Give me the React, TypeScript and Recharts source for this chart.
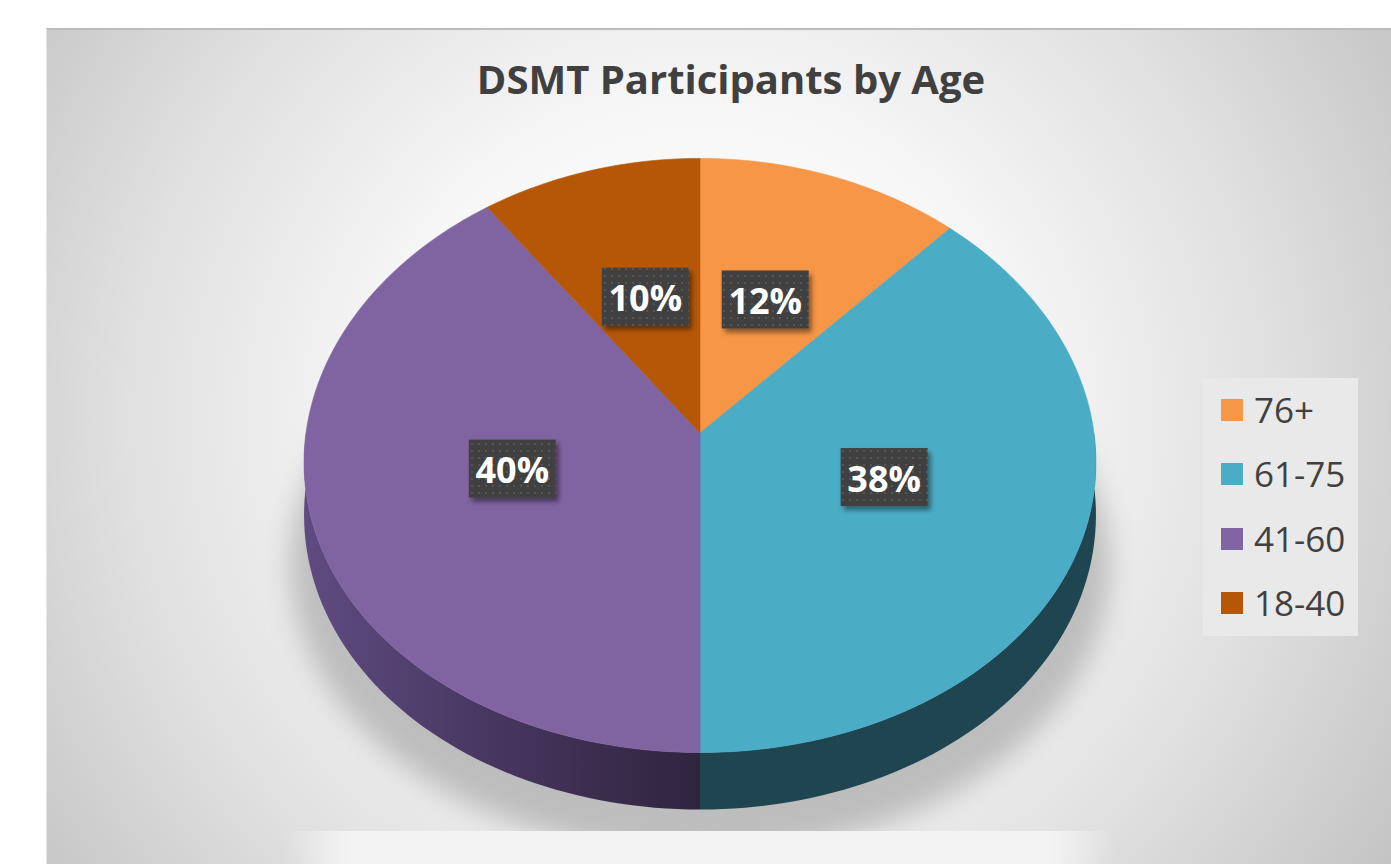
import React from 'react';
import { PieChart, Pie, Legend } from 'recharts';

const TITLE = 'DSMT Participants by Age';
const CATEGORIES = ['76+', '61-75', '41-60', '18-40'];
const VALUES = [12, 38, 40, 10];
const COLORS = ['#F79646', '#4BACC6', '#8064A2', '#B65708'];
const SIDE_COLORS = ['#7a4420', '#1E4550', 'url(#purpleSide)', '#5a2c04'];

const data = CATEGORIES.map((name, i) => ({ name, value: VALUES[i] }));

const W = 1391;
const H = 864;
const TILT = 0.754;
const BOW = 0.057;
const PERSP = 0.1;

function project(cx: number, cy: number, R: number, u: number, v: number): [number, number] {
  return [cx + R * u * (1 - PERSP * v), cy - TILT * R * v + BOW * R * v * v];
}
function depthAt(R: number, v: number) {
  return R * (0.132 - 0.0127 * v);
}

const RAD = Math.PI / 180;

const renderSlice = (props: any) => {
  const { cx, cy, outerRadius, startAngle, endAngle, index, percent } = props;
  const R = outerRadius;
  const rim = (a0: number, a1: number) => {
    const steps = Math.max(6, Math.ceil(Math.abs(a1 - a0) / 1.5));
    const pts: [number, number, number][] = [];
    for (let k = 0; k <= steps; k++) {
      const a = (a0 + ((a1 - a0) * k) / steps) * RAD;
      const [x, y] = project(cx, cy, R, Math.cos(a), Math.sin(a));
      pts.push([x, y, Math.sin(a)]);
    }
    return pts;
  };
  const topPts = rim(startAngle, endAngle);
  const [ax, ay] = project(cx, cy, R, 0, 0);
  const topPath =
    `M${ax},${ay} ` + topPts.map((p) => `L${p[0].toFixed(2)},${p[1].toFixed(2)}`).join(' ') + ' Z';

  const lo = Math.max(Math.min(startAngle, endAngle), -180);
  const hi = Math.min(Math.max(startAngle, endAngle), 0);
  let sidePath: string | null = null;
  if (hi > lo) {
    const s = rim(hi, lo);
    const bottom = s
      .slice()
      .reverse()
      .map((p) => [p[0], p[1] + depthAt(R, p[2])]);
    sidePath =
      `M${s[0][0]},${s[0][1]} ` +
      s.slice(1).map((p) => `L${p[0].toFixed(2)},${p[1].toFixed(2)}`).join(' ') +
      ' ' +
      bottom.map((p) => `L${p[0].toFixed(2)},${p[1].toFixed(2)}`).join(' ') +
      ' Z';
  }

  const mid = ((startAngle + endAngle) / 2) * RAD;
  const K = 0.47;
  const [lx0, ly0] = project(cx, cy, R, K * Math.cos(mid), K * Math.sin(mid));
  const lx = lx0 + (Math.cos(mid) < -0.5 ? -9 : Math.cos(mid) > 0.5 ? 9 : 0);
  const ly = ly0 - 8;
  const bw = 87;
  const bh = 58;
  const text = `${Math.round(percent * 100)}%`;

  return (
    <g key={`slice-${index}`}>
      {sidePath && <path d={sidePath} fill={SIDE_COLORS[index]} stroke="none" />}
      <path d={topPath} fill={COLORS[index]} stroke={COLORS[index]} strokeWidth={0.6} />
      <rect
        x={lx - bw / 2}
        y={ly - bh / 2}
        width={bw}
        height={bh}
        fill="url(#dotPattern)"
        filter="url(#boxShadow)"
      />
      <text
        x={lx}
        y={ly + 1}
        textAnchor="middle"
        dominantBaseline="central"
        fill="#ffffff"
        fontFamily="'Open Sans', sans-serif"
        fontWeight={700}
        fontSize={36}
      >
        {text}
      </text>
    </g>
  );
};

const ROW_CENTERS = [32, 96, 161, 225];

const renderLegend = (props: any) => {
  const payload = ((props && props.payload) || [])
    .slice()
    .sort((a: any, b: any) => CATEGORIES.indexOf(a.value) - CATEGORIES.indexOf(b.value));
  return (
    <div
      style={{
        width: 155,
        height: 258,
        background: '#e9e9e9',
        position: 'relative',
        fontFamily: "'Open Sans', sans-serif",
      }}
    >
      {payload.map((entry: any, i: number) => {
        const idx = CATEGORIES.indexOf(entry.value);
        const c = ROW_CENTERS[i] ?? 32 + i * 64;
        return (
          <div key={`lg-${i}`}>
            <div
              style={{
                position: 'absolute',
                left: 18,
                top: c - 11,
                width: 22,
                height: 22,
                background: COLORS[idx >= 0 ? idx : i],
              }}
            />
            <div
              style={{
                position: 'absolute',
                left: 51,
                top: c - 18,
                height: 35,
                lineHeight: '35px',
                fontSize: 35,
                color: '#404040',
                whiteSpace: 'nowrap',
              }}
            >
              {entry.value}
            </div>
          </div>
        );
      })}
    </div>
  );
};

export default function App() {
  return (
    <div style={{ position: 'absolute', left: 0, top: 0, width: W, height: H, background: '#ffffff', overflow: 'hidden' }}>
      <svg width={W} height={H} style={{ position: 'absolute', left: 0, top: 0 }}>
        <defs>
          <radialGradient id="bgGrad" gradientUnits="userSpaceOnUse" cx={700} cy={420} r={820}>
            <stop offset="0" stopColor="#ffffff" />
            <stop offset="0.38" stopColor="#f7f7f7" />
            <stop offset="0.7" stopColor="#e0e0e0" />
            <stop offset="1" stopColor="#c4c4c4" />
          </radialGradient>
          <linearGradient id="purpleSide" gradientUnits="userSpaceOnUse" x1={306} y1={0} x2={700} y2={0}>
            <stop offset="0" stopColor="#5f4b81" />
            <stop offset="0.5" stopColor="#46355e" />
            <stop offset="1" stopColor="#30243e" />
          </linearGradient>
          <linearGradient id="floorLight" x1="0" y1="0" x2="1" y2="0">
            <stop offset="0" stopColor="#f3f3f3" stopOpacity="0" />
            <stop offset="0.08" stopColor="#f3f3f3" stopOpacity="1" />
            <stop offset="0.92" stopColor="#f3f3f3" stopOpacity="1" />
            <stop offset="1" stopColor="#f3f3f3" stopOpacity="0" />
          </linearGradient>
          <filter id="blurShadow" x="-20%" y="-20%" width="140%" height="140%">
            <feGaussianBlur stdDeviation="14" />
          </filter>
          <clipPath id="floorClip">
            <rect x={260} y={380} width={880} height={451} />
          </clipPath>
          <pattern id="dotPattern" patternUnits="userSpaceOnUse" width={7} height={7}>
            <rect x={0} y={0} width={7} height={7} fill="#404040" />
            <rect x={2} y={2} width={2} height={2} fill="#575757" />
          </pattern>
          <filter id="boxShadow" x="-20%" y="-20%" width="150%" height="160%">
            <feDropShadow dx="3" dy="4" stdDeviation="2.5" floodColor="#000000" floodOpacity="0.45" />
          </filter>
        </defs>
        <rect x={46} y={29} width={W - 46} height={H - 29} fill="url(#bgGrad)" />
        <line x1={46} y1={29} x2={W} y2={29} stroke="#bcbcbc" strokeWidth={2} />
        <line x1={46.5} y1={29} x2={46.5} y2={H} stroke="#e6e6e6" strokeWidth={1} />
        <rect x={285} y={831} width={830} height={33} fill="url(#floorLight)" />
        <g clipPath="url(#floorClip)">
          <ellipse cx={700} cy={565} rx={410} ry={290} fill="#bdbdbd" filter="url(#blurShadow)" />
        </g>
        <text
          x={731}
          y={94}
          textAnchor="middle"
          fill="#404040"
          fontFamily="'Open Sans', sans-serif"
          fontWeight={700}
          fontSize={40}
        >
          {TITLE}
        </text>
      </svg>
      <div style={{ position: 'absolute', left: 0, top: 0 }}>
        <PieChart width={W} height={H} margin={{ top: 0, right: 0, bottom: 0, left: 0 }}>
          <Pie
            data={data}
            dataKey="value"
            nameKey="name"
            cx={700}
            cy={433}
            outerRadius={394}
            startAngle={90}
            endAngle={-270}
            fill="none"
            stroke="none"
            labelLine={false}
            label={renderSlice}
            isAnimationActive={false}
          />
          <Legend
            layout="vertical"
            align="right"
            verticalAlign="middle"
            content={renderLegend}
            wrapperStyle={{ position: 'absolute', left: 1203, top: 378, right: 'auto', bottom: 'auto', width: 155, height: 258 }}
          />
        </PieChart>
      </div>
    </div>
  );
}
